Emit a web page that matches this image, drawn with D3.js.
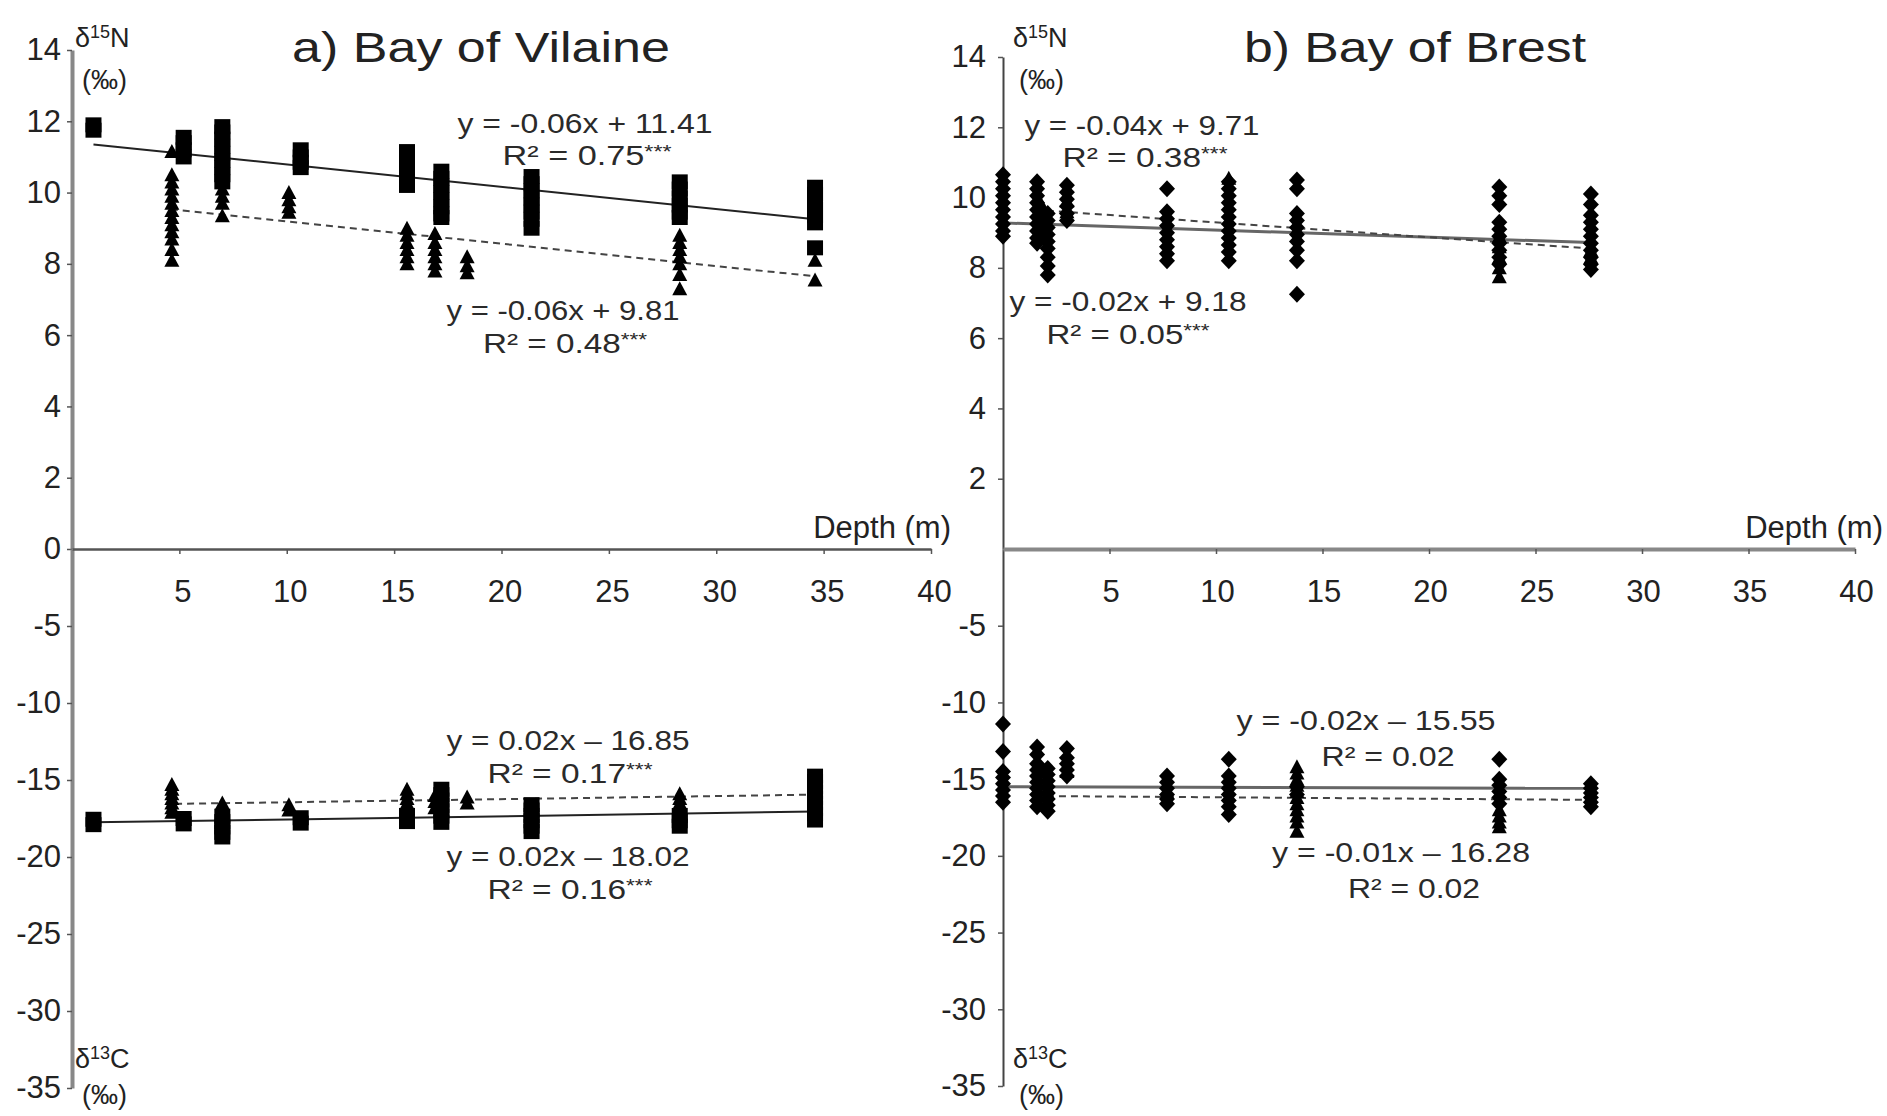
<!DOCTYPE html>
<head>
<meta charset="UTF-8">
<title>Isotopes vs depth - Vilaine and Brest</title>
<style>
body { margin: 0; background: #fff; }
svg text { font-family: "Liberation Sans", Arial, sans-serif; fill: #222; }
.title { font-size: 42px; }
.eq { font-size: 28px; fill: #2a2a2a; }
.iso { font-size: 27px; }
.depth { font-size: 31px; }
.trend { fill: none; }
</style>
<body>
<script src="https://cdn.jsdelivr.net/npm/d3@7/dist/d3.min.js"></script>
<script>

// ---- data (depth in m, isotope values in permil) ----

// a) Bay of Vilaine, squares (solid trend)
var vilaineSquareN = [
  {depth: 1.0,  values: [11.9, 11.75]},
  {depth: 5.2,  values: [11.55, 11.4, 11.2, 11.0]},
  {depth: 7.0,  values: [11.85, 11.7, 11.5, 11.3, 11.1, 10.9, 10.7, 10.5, 10.3]},
  {depth: 10.65, values: [11.2, 11.0, 10.85, 10.7]},
  {depth: 15.6, values: [11.15, 10.95, 10.75, 10.55, 10.35, 10.2]},
  {depth: 17.2, values: [10.6, 10.4, 10.2, 10.0, 9.8, 9.6, 9.4, 9.3]},
  {depth: 21.4, values: [10.45, 10.25, 10.05, 9.85, 9.65, 9.45, 9.25, 9.0]},
  {depth: 28.3, values: [10.3, 10.1, 9.85, 9.65, 9.45, 9.3]},
  {depth: 34.6, values: [10.15, 9.95, 9.75, 9.55, 9.35, 9.15, 8.45]}
];
var vilaineTriangleN = [
  {depth: 4.65, values: [11.15, 10.5, 10.3, 10.1, 9.9, 9.7, 9.5, 9.3, 9.1, 8.9, 8.7, 8.4, 8.1]},
  {depth: 7.0,  values: [10.1, 9.9, 9.7, 9.35]},
  {depth: 10.1, values: [10.0, 9.8, 9.6, 9.45]},
  {depth: 15.6, values: [9.0, 8.8, 8.6, 8.4, 8.2, 8.0]},
  {depth: 16.9, values: [8.85, 8.6, 8.4, 8.2, 8.0, 7.8]},
  {depth: 18.4, values: [8.2, 7.95, 7.75]},
  {depth: 28.3, values: [8.8, 8.6, 8.4, 8.2, 8.0, 7.7, 7.3]},
  {depth: 34.6, values: [8.1, 7.55]}
];
var vilaineSquareC = [
  {depth: 1.0,  values: [-17.55, -17.9]},
  {depth: 5.2,  values: [-17.5, -17.85]},
  {depth: 7.0,  values: [-17.35, -17.7, -18.05, -18.4, -18.7]},
  {depth: 10.65, values: [-17.45, -17.8]},
  {depth: 15.6, values: [-17.3, -17.7]},
  {depth: 17.2, values: [-15.6, -15.95, -16.3, -16.65, -17.0, -17.35, -17.75]},
  {depth: 21.4, values: [-16.6, -16.95, -17.3, -17.65, -18.0, -18.35]},
  {depth: 28.3, values: [-17.3, -17.65, -18.0]},
  {depth: 34.6, values: [-14.75, -15.1, -15.45, -15.8, -16.15, -16.5, -16.85, -17.2, -17.6]}
];
var vilaineTriangleC = [
  {depth: 4.65, values: [-15.3, -15.6, -15.9, -16.2, -16.5, -16.8, -17.1]},
  {depth: 7.0,  values: [-16.5, -16.9]},
  {depth: 10.1, values: [-16.6, -16.95]},
  {depth: 15.6, values: [-15.6, -15.9, -16.2, -16.5, -16.8]},
  {depth: 16.9, values: [-16.0, -16.4, -16.8]},
  {depth: 18.4, values: [-16.1, -16.5]},
  {depth: 28.3, values: [-15.9, -16.2, -16.5, -16.8, -17.1]}
];

// b) Bay of Brest, diamonds (solid trend)
var brestDiamondN = [
  {depth: 0.0,  values: [10.65, 10.45, 10.25, 10.05, 9.85, 9.65, 9.45, 9.25, 9.05, 8.9]},
  {depth: 1.6,  values: [10.45, 10.25, 10.05, 9.85, 9.65, 9.45, 9.25, 9.05, 8.85, 8.7]},
  {depth: 2.1,  values: [9.55, 9.35, 9.15, 8.95, 8.75, 8.55, 8.3, 8.05, 7.8]},
  {depth: 3.0,  values: [10.35, 10.15, 9.95, 9.75, 9.55, 9.35]},
  {depth: 7.7,  values: [10.25, 9.6, 9.4, 9.2, 9.0, 8.8, 8.6, 8.4, 8.2]},
  {depth: 10.6, values: [10.45, 10.25, 10.05, 9.85, 9.65, 9.45, 9.25, 9.05, 8.85, 8.65, 8.45, 8.2]},
  {depth: 13.8, values: [10.5, 10.25, 9.55, 9.35, 9.15, 8.95, 8.75, 8.5, 8.2, 7.25]},
  {depth: 23.3, values: [10.3, 10.05, 9.8, 9.3, 9.1, 8.9, 8.7, 8.5, 8.3, 8.1]},
  {depth: 27.6, values: [10.1, 9.8, 9.5, 9.3, 9.1, 8.9, 8.7, 8.5, 8.3, 8.1, 7.95]}
];
var brestTriangleN = [
  {depth: 1.8,  values: [9.8]},
  {depth: 3.0,  values: [9.6, 9.9]},
  {depth: 10.6, values: [10.55]},
  {depth: 23.3, values: [8.9, 8.6, 8.3, 8.0, 7.75]},
  {depth: 27.6, values: [8.5, 8.3]}
];
var brestDiamondC = [
  {depth: 0.0,  values: [-11.4, -13.2, -14.5, -14.9, -15.3, -15.7, -16.1, -16.5]},
  {depth: 1.6,  values: [-12.9, -13.4, -14.0, -14.4, -14.8, -15.2, -15.6, -16.0, -16.4, -16.8]},
  {depth: 2.1,  values: [-14.3, -14.7, -15.1, -15.5, -15.9, -16.3, -16.7, -17.1]},
  {depth: 3.0,  values: [-13.0, -13.6, -14.0, -14.4, -14.8]},
  {depth: 7.7,  values: [-14.8, -15.2, -15.6, -16.0, -16.3, -16.6]},
  {depth: 10.6, values: [-13.7, -14.8, -15.2, -15.6, -16.0, -16.4, -16.8, -17.3]},
  {depth: 13.8, values: [-15.5, -16.0]},
  {depth: 23.3, values: [-13.7, -15.0, -15.4, -15.8, -16.2, -16.6]},
  {depth: 27.6, values: [-15.3, -15.6, -15.9, -16.2, -16.5, -16.8]}
];
var brestTriangleC = [
  {depth: 3.0,  values: [-14.5]},
  {depth: 13.8, values: [-14.2, -14.6, -15.0, -15.4, -15.8, -16.2, -16.6, -17.0, -17.4, -17.8, -18.4]},
  {depth: 23.3, values: [-17.0, -17.4, -17.8, -18.1]}
];

// regression lines: [depth start, depth end], [value start, value end]
var vilaineTrends = [
  {iso: "N", dash: false, depth: [1.0, 34.6], value: [11.35, 9.25]},
  {iso: "N", dash: true,  depth: [4.6, 34.6], value: [9.53, 7.65]},
  {iso: "C", dash: true,  depth: [4.8, 34.6], value: [-16.55, -15.95]},
  {iso: "C", dash: false, depth: [1.0, 34.6], value: [-17.75, -17.05]}
];
var brestTrends = [
  {iso: "N", dash: false, depth: [0.0, 27.6], value: [9.28, 8.72]},
  {iso: "N", dash: true,  depth: [1.5, 27.6], value: [9.65, 8.55]},
  {iso: "C", dash: false, depth: [0.0, 27.6], value: [-15.5, -15.6]},
  {iso: "C", dash: true,  depth: [1.5, 27.6], value: [-16.1, -16.35]}
];

// equation texts
var vilaineEquations = [
  {eq: "y = -0.06x + 11.41", r2: "R² = 0.75", stars: "***"},
  {eq: "y = -0.06x + 9.81",  r2: "R² = 0.48", stars: "***"},
  {eq: "y = 0.02x – 16.85",  r2: "R² = 0.17", stars: "***"},
  {eq: "y = 0.02x – 18.02",  r2: "R² = 0.16", stars: "***"}
];
var brestEquations = [
  {eq: "y = -0.04x + 9.71",  r2: "R² = 0.38", stars: "***"},
  {eq: "y = -0.02x + 9.18",  r2: "R² = 0.05", stars: "***"},
  {eq: "y = -0.02x – 15.55", r2: "R² = 0.02", stars: ""},
  {eq: "y = -0.01x – 16.28", r2: "R² = 0.02", stars: ""}
];

var depthTicks = [5, 10, 15, 20, 25, 30, 35, 40];
var nTicksVilaine = [0, 2, 4, 6, 8, 10, 12, 14];
var nTicksBrest = [2, 4, 6, 8, 10, 12, 14];
var cTicks = [-5, -10, -15, -20, -25, -30, -35];

// ---- layout ----
var width = 1887, height = 1116;

var svg = d3.select("body").append("svg")
    .attr("width", width)
    .attr("height", height)
    .style("background", "#fff");

// eqPos: [eq x, eq baseline, eq width, r2 x, r2 baseline, r2 width]
var panels = [
  {
    title: "a) Bay of Vilaine", titleX: 481, titleLen: 378,
    left: 72, right: 931, top: 50, zero: 549, bottom: 1088,
    yAxisColor: "#888", yAxisWidth: 4, xAxisColor: "#555", xAxisWidth: 2.5,
    labelPad: 6, nTicks: nTicksVilaine, xLabelShift: 3,
    open: "square", openN: vilaineSquareN, openC: vilaineSquareC,
    triN: vilaineTriangleN, triC: vilaineTriangleC,
    trends: vilaineTrends, equations: vilaineEquations,
    solidColor: "#222", solidWidth: 2,
    eqPos: [[585, 133, 255, 587, 165, 169], [563, 320, 233, 565, 353, 164],
            [568, 750, 243, 570, 783, 165], [568, 866, 243, 570, 899, 165]],
    isoX: 75, isoParX: 82, depthEnd: 951
  },
  {
    title: "b) Bay of Brest", titleX: 1415, titleLen: 342,
    left: 1003, right: 1855, top: 57, zero: 549, bottom: 1086,
    yAxisColor: "#444", yAxisWidth: 2, xAxisColor: "#888", xAxisWidth: 4,
    labelPad: 12, nTicks: nTicksBrest, xLabelShift: 1,
    open: "diamond", openN: brestDiamondN, openC: brestDiamondC,
    triN: brestTriangleN, triC: brestTriangleC,
    trends: brestTrends, equations: brestEquations,
    solidColor: "#666", solidWidth: 3,
    eqPos: [[1142, 135, 235, 1145, 167, 165], [1128, 311, 237, 1128, 344, 163],
            [1366, 730, 259, 1388, 766, 133], [1401, 862, 258, 1414, 898, 132]],
    isoX: 1013, isoParX: 1019, depthEnd: 1883
  }
];

// marker shapes
var squarePath = "M-8,-7.5H8V7.5H-8Z";
var trianglePath = "M0,-7.5L7.5,6.5H-7.5Z";
var diamondPath = "M0,-8.5L8,0L0,8.5L-8,0Z";

// flatten columns into points
function points(cols) {
  var out = [];
  cols.forEach(function(c) {
    c.values.forEach(function(v) { out.push({depth: c.depth, value: v}); });
  });
  return out;
}

panels.forEach(drawPanel);

function drawPanel(p) {
  var g = svg.append("g");

  var x = d3.scaleLinear().domain([0, 40]).range([p.left, p.right]);
  var yN = d3.scaleLinear().domain([0, 14]).range([p.zero, p.top]);
  var yC = d3.scaleLinear().domain([-35, 0]).range([p.bottom, p.zero]);

  // y axis, upper (delta 15N) and lower (delta 13C) halves
  var axN = g.append("g")
      .attr("transform", "translate(" + x(0) + ",0)")
      .call(d3.axisLeft(yN).tickValues(p.nTicks).tickSize(5).tickSizeOuter(0)
            .tickPadding(p.labelPad).tickFormat(function(d) { return String(d); }));
  var axC = g.append("g")
      .attr("transform", "translate(" + x(0) + ",0)")
      .call(d3.axisLeft(yC).tickValues(cTicks).tickSize(5).tickSizeOuter(0)
            .tickPadding(p.labelPad).tickFormat(function(d) { return String(d); }));
  [axN, axC].forEach(function(ax) {
    ax.attr("font-size", 31).attr("font-family", null);
    ax.select(".domain").attr("stroke", p.yAxisColor).attr("stroke-width", p.yAxisWidth);
    ax.selectAll(".tick line").attr("stroke", "#555").attr("stroke-width", 1.5);
    ax.selectAll(".tick text").attr("fill", "#222");
  });

  // depth axis along the zero line
  var axX = g.append("g")
      .attr("transform", "translate(0," + p.zero + ")")
      .call(d3.axisBottom(x).tickValues(depthTicks).tickSize(5).tickSizeOuter(0).tickPadding(26));
  axX.attr("font-size", 31).attr("font-family", null);
  axX.select(".domain").attr("stroke", p.xAxisColor).attr("stroke-width", p.xAxisWidth);
  axX.selectAll(".tick line").attr("stroke", "#555").attr("stroke-width", 1.5);
  axX.selectAll(".tick text").attr("fill", "#222").attr("dx", p.xLabelShift);

  // trend lines
  g.selectAll("line.trend")
    .data(p.trends)
    .enter().append("line")
      .attr("class", "trend")
      .attr("x1", function(d) { return x(d.depth[0]); })
      .attr("x2", function(d) { return x(d.depth[1]); })
      .attr("y1", function(d) { return (d.iso == "N" ? yN : yC)(d.value[0]); })
      .attr("y2", function(d) { return (d.iso == "N" ? yN : yC)(d.value[1]); })
      .attr("stroke", function(d) { return d.dash ? "#444" : p.solidColor; })
      .attr("stroke-width", function(d) { return d.dash ? 2 : p.solidWidth; })
      .attr("stroke-dasharray", function(d) { return d.dash ? "7,5" : null; });

  // markers: triangles under, squares/diamonds on top
  var openPath = p.open == "square" ? squarePath : diamondPath;
  var sets = [
    {pts: points(p.triN), y: yN, path: trianglePath},
    {pts: points(p.triC), y: yC, path: trianglePath},
    {pts: points(p.openN), y: yN, path: openPath},
    {pts: points(p.openC), y: yC, path: openPath}
  ];
  sets.forEach(function(s) {
    g.append("g").selectAll("path")
      .data(s.pts)
      .enter().append("path")
        .attr("d", s.path)
        .attr("fill", "#000")
        .attr("transform", function(d) {
          return "translate(" + x(d.depth) + "," + s.y(d.value) + ")";
        });
  });

  // regression equations
  p.equations.forEach(function(e, i) {
    var pos = p.eqPos[i];
    g.append("text").attr("class", "eq")
      .attr("x", pos[0]).attr("y", pos[1])
      .attr("text-anchor", "middle")
      .attr("textLength", pos[2])
      .attr("lengthAdjust", "spacingAndGlyphs")
      .text(e.eq);
    var r = g.append("text").attr("class", "eq")
      .attr("x", pos[3]).attr("y", pos[4])
      .attr("text-anchor", "middle")
      .attr("textLength", pos[5])
      .attr("lengthAdjust", "spacingAndGlyphs");
    r.append("tspan").text(e.r2);
    if (e.stars) {
      r.append("tspan").attr("dy", -7).attr("font-size", 19).text(e.stars);
    }
  });

  // title
  g.append("text").attr("class", "title")
    .attr("x", p.titleX).attr("y", 62)
    .attr("text-anchor", "middle")
    .attr("textLength", p.titleLen)
    .attr("lengthAdjust", "spacingAndGlyphs")
    .text(p.title);

  // isotope axis names
  isoLabel(g, p.isoX, 47, "15", "N");
  g.append("text").attr("class", "iso").attr("x", p.isoParX).attr("y", 89).text("(‰)");
  isoLabel(g, p.isoX, 1068, "13", "C");
  g.append("text").attr("class", "iso").attr("x", p.isoParX).attr("y", 1104).text("(‰)");

  g.append("text").attr("class", "depth")
    .attr("x", p.depthEnd).attr("y", 538)
    .attr("text-anchor", "end")
    .text("Depth (m)");
}

function isoLabel(g, xPos, yPos, mass, element) {
  var t = g.append("text").attr("class", "iso").attr("x", xPos).attr("y", yPos);
  t.append("tspan").text("δ");
  t.append("tspan").attr("dy", -9).attr("font-size", 18).text(mass);
  t.append("tspan").attr("dy", 9).text(element);
}

</script>
</body>
